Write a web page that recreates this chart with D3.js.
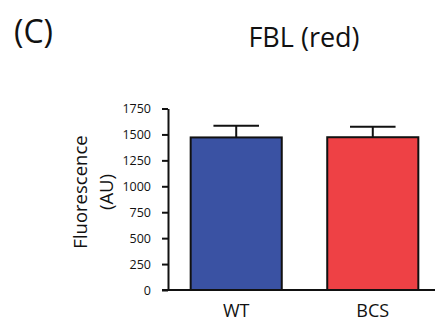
<!DOCTYPE html>
<html>
<head>
<meta charset="utf-8">
<script src="https://cdn.jsdelivr.net/npm/d3@7"></script>
<style>
  body { margin: 0; background: #fff; }
  svg { display: block; font-family: "Open Sans", sans-serif; }
</style>
</head>
<body>
<script>
// data
var categories = ["WT", "BCS"];
var means = [1471, 1473];
var errors = [112, 100];
var colors = ["#3a52a3", "#ee4145"];
var yTicks = [0, 250, 500, 750, 1000, 1250, 1500, 1750];

var W = 440, H = 327;

var svg = d3.select("body").append("svg")
  .attr("width", W)
  .attr("height", H);

var x = d3.scaleBand()
  .domain(categories)
  .range([168, 441])
  .paddingInner(0.333)
  .paddingOuter(0.166);

var y = d3.scaleLinear()
  .domain([0, 1750])
  .range([290, 108.5]);

// panel letter and title
svg.append("text")
  .attr("x", 14)
  .attr("y", 43)
  .attr("font-size", 32)
  .attr("fill", "#111")
  .text("(C)");

svg.append("text")
  .attr("x", 304)
  .attr("y", 47)
  .attr("text-anchor", "middle")
  .attr("font-size", 27)
  .attr("fill", "#111")
  .text("FBL (red)");

// bars
svg.selectAll(".bar")
  .data(categories)
  .enter().append("rect")
  .attr("class", "bar")
  .attr("x", function(d) { return x(d); })
  .attr("y", function(d, i) { return y(means[i]); })
  .attr("width", x.bandwidth())
  .attr("height", function(d, i) { return y(0) - y(means[i]); })
  .attr("fill", function(d, i) { return colors[i]; })
  .attr("stroke", "#111")
  .attr("stroke-width", 2);

// error bars (upper only)
var capHalf = x.bandwidth() * 0.25;
var err = svg.selectAll(".err")
  .data(categories)
  .enter().append("g")
  .attr("class", "err")
  .attr("stroke", "#111")
  .attr("stroke-width", 2);

err.append("line")
  .attr("x1", function(d) { return x(d) + x.bandwidth() / 2; })
  .attr("x2", function(d) { return x(d) + x.bandwidth() / 2; })
  .attr("y1", function(d, i) { return y(means[i]); })
  .attr("y2", function(d, i) { return y(means[i] + errors[i]); });

err.append("line")
  .attr("x1", function(d) { return x(d) + x.bandwidth() / 2 - capHalf; })
  .attr("x2", function(d) { return x(d) + x.bandwidth() / 2 + capHalf; })
  .attr("y1", function(d, i) { return y(means[i] + errors[i]); })
  .attr("y2", function(d, i) { return y(means[i] + errors[i]); });

// y axis
var yAxis = svg.append("g")
  .attr("transform", "translate(" + x.range()[0] + ",0)")
  .call(d3.axisLeft(y).tickValues(yTicks).tickFormat(d3.format("d"))
    .tickSize(6).tickSizeOuter(0).tickPadding(11));

yAxis.selectAll("path, line")
  .attr("stroke", "#111")
  .attr("stroke-width", 2);
yAxis.selectAll("text")
  .attr("font-family", "Open Sans, sans-serif")
  .attr("font-size", 12.5)
  .attr("fill", "#111");

// x baseline
svg.append("line")
  .attr("x1", x.range()[0] - 6)
  .attr("x2", x.range()[1] - 6)
  .attr("y1", y(0))
  .attr("y2", y(0))
  .attr("stroke", "#111")
  .attr("stroke-width", 2);

// x labels
svg.selectAll(".xlabel")
  .data(categories)
  .enter().append("text")
  .attr("class", "xlabel")
  .attr("x", function(d) { return x(d) + x.bandwidth() / 2; })
  .attr("y", 317)
  .attr("text-anchor", "middle")
  .attr("font-size", 18)
  .attr("fill", "#111")
  .text(function(d) { return d; });

// y label
var ylab = svg.append("text")
  .attr("transform", "translate(87,192) rotate(-90)")
  .attr("text-anchor", "middle")
  .attr("font-size", 18.5)
  .attr("fill", "#111");
ylab.append("tspan").attr("x", 0).attr("dy", 0).text("Fluorescence");
ylab.append("tspan").attr("x", 0).attr("dy", 26).text("(AU)");
</script>
</body>
</html>
